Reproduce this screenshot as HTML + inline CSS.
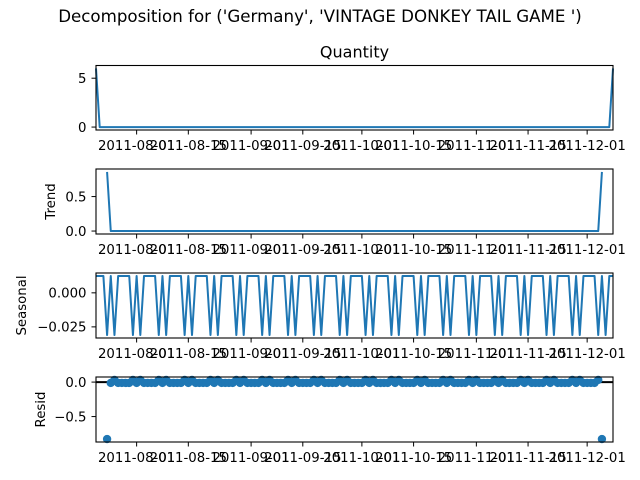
<!DOCTYPE html>
<html><head><meta charset="utf-8"><style>
body{margin:0;background:#fff;}
svg{display:block;font-family:"DejaVu Sans","Liberation Sans",sans-serif;}
</style></head><body>
<svg id="fig" width="640" height="480" viewBox="0 0 640 480">
<text x="320" y="22" text-anchor="middle" font-size="16.67" fill="#000">Decomposition for ('Germany', 'VINTAGE DONKEY TAIL GAME ')</text>
</svg>
<script>
const quantity = [
6,0,0,0,0,0,0, 0,0,0,0,0,0,0, 0,0,0,0,0,0,0, 0,0,0,0,0,0,0, 0,0,0,0,0,0,0,
0,0,0,0,0,0,0, 0,0,0,0,0,0,0, 0,0,0,0,0,0,0, 0,0,0,0,0,0,0, 0,0,0,0,0,0,0,
0,0,0,0,0,0,0, 0,0,0,0,0,0,0, 0,0,0,0,0,0,0, 0,0,0,0,0,0,0, 0,0,0,0,0,0,0,
0,0,0,0,0,0,0, 0,0,0,0,0,0,0, 0,0,0,0,0,0,0, 0,0,0,0,0,0,0, 0,0,0,0,0,0,0,
6];
const trend = [
null,null,null,0.857,0,0,0, 0,0,0,0,0,0,0, 0,0,0,0,0,0,0, 0,0,0,0,0,0,0, 0,0,0,0,0,0,0,
0,0,0,0,0,0,0, 0,0,0,0,0,0,0, 0,0,0,0,0,0,0, 0,0,0,0,0,0,0, 0,0,0,0,0,0,0,
0,0,0,0,0,0,0, 0,0,0,0,0,0,0, 0,0,0,0,0,0,0, 0,0,0,0,0,0,0, 0,0,0,0,0,0,0,
0,0,0,0,0,0,0, 0,0,0,0,0,0,0, 0,0,0,0,0,0,0, 0,0,0,0,0,0,0, 0,0,0,0,0.857,null,null,
null];
const seasonal = [
0.0124,0.0124,0.0124,-0.031,0.0124,-0.031,0.0124, 0.0124,0.0124,0.0124,-0.031,0.0124,-0.031,0.0124,
0.0124,0.0124,0.0124,-0.031,0.0124,-0.031,0.0124, 0.0124,0.0124,0.0124,-0.031,0.0124,-0.031,0.0124,
0.0124,0.0124,0.0124,-0.031,0.0124,-0.031,0.0124, 0.0124,0.0124,0.0124,-0.031,0.0124,-0.031,0.0124,
0.0124,0.0124,0.0124,-0.031,0.0124,-0.031,0.0124, 0.0124,0.0124,0.0124,-0.031,0.0124,-0.031,0.0124,
0.0124,0.0124,0.0124,-0.031,0.0124,-0.031,0.0124, 0.0124,0.0124,0.0124,-0.031,0.0124,-0.031,0.0124,
0.0124,0.0124,0.0124,-0.031,0.0124,-0.031,0.0124, 0.0124,0.0124,0.0124,-0.031,0.0124,-0.031,0.0124,
0.0124,0.0124,0.0124,-0.031,0.0124,-0.031,0.0124, 0.0124,0.0124,0.0124,-0.031,0.0124,-0.031,0.0124,
0.0124,0.0124,0.0124,-0.031,0.0124,-0.031,0.0124, 0.0124,0.0124,0.0124,-0.031,0.0124,-0.031,0.0124,
0.0124,0.0124,0.0124,-0.031,0.0124,-0.031,0.0124, 0.0124,0.0124,0.0124,-0.031,0.0124,-0.031,0.0124,
0.0124,0.0124,0.0124,-0.031,0.0124,-0.031,0.0124, 0.0124,0.0124,0.0124,-0.031,0.0124,-0.031,0.0124,
0.0124];
const resid = [
null,null,null,-0.826,-0.0124,0.031,-0.0124,
-0.0124,-0.0124,-0.0124,0.031,-0.0124,0.031,-0.0124, -0.0124,-0.0124,-0.0124,0.031,-0.0124,0.031,-0.0124,
-0.0124,-0.0124,-0.0124,0.031,-0.0124,0.031,-0.0124, -0.0124,-0.0124,-0.0124,0.031,-0.0124,0.031,-0.0124,
-0.0124,-0.0124,-0.0124,0.031,-0.0124,0.031,-0.0124, -0.0124,-0.0124,-0.0124,0.031,-0.0124,0.031,-0.0124,
-0.0124,-0.0124,-0.0124,0.031,-0.0124,0.031,-0.0124, -0.0124,-0.0124,-0.0124,0.031,-0.0124,0.031,-0.0124,
-0.0124,-0.0124,-0.0124,0.031,-0.0124,0.031,-0.0124, -0.0124,-0.0124,-0.0124,0.031,-0.0124,0.031,-0.0124,
-0.0124,-0.0124,-0.0124,0.031,-0.0124,0.031,-0.0124, -0.0124,-0.0124,-0.0124,0.031,-0.0124,0.031,-0.0124,
-0.0124,-0.0124,-0.0124,0.031,-0.0124,0.031,-0.0124, -0.0124,-0.0124,-0.0124,0.031,-0.0124,0.031,-0.0124,
-0.0124,-0.0124,-0.0124,0.031,-0.0124,0.031,-0.0124, -0.0124,-0.0124,-0.0124,0.031,-0.0124,0.031,-0.0124,
-0.0124,-0.0124,-0.0124,0.031,-0.0124,0.031,-0.0124, -0.0124,-0.0124,-0.0124,0.031,-0.0124,0.031,-0.0124,
-0.0124,-0.0124,-0.0124,0.031,-0.826,null,null,
null];
const xTickDays = [11,25,42,56,72,86,103,117,133];
const xTickLabels = ["2011-08-01","2011-08-15","2011-09-01","2011-09-15","2011-10-01","2011-10-15","2011-11-01","2011-11-15","2011-12-01"];
const qTicks = [0,5], qTickLabels = ["0","5"];
const tTicks = [0,0.5], tTickLabels = ["0.0","0.5"];
const sTicks = [0,-0.025], sTickLabels = ["0.000","\u22120.025"];
const rTicks = [0,-0.5], rTickLabels = ["0.0","\u22120.5"];

const NS="http://www.w3.org/2000/svg";
const svg=document.getElementById('fig');
const X0=96, X1=613;
function x(i){ return X0 + i*(X1-X0)/(quantity.length-1); }
function mk(tag,attrs,parent){ const e=document.createElementNS(NS,tag); for(const k in attrs) e.setAttribute(k,attrs[k]); (parent||svg).appendChild(e); return e; }
function ext(arr){ const v=arr.filter(a=>a!==null); let lo=Math.min(...v), hi=Math.max(...v); const m=(hi-lo)*0.05; return [lo-m,hi+m]; }

function panel(name, data, top, bot, ticks, tlabels, ylabel, labelX, title, kind){
  const g=mk('g',{});
  
  
  const [lo,hi]=ext(kind==='resid'?data.concat([0]):data);
  const y=v=> bot - (v-lo)/(hi-lo)*(bot-top);
  if(kind==='resid'){
    const zl=mk('line',{x1:X0,x2:X1,y1:y(0),y2:y(0),stroke:'#000','stroke-width':2},g);
    
    
    data.forEach((v,i)=>{ if(v===null) return;
      const c=mk('circle',{cx:x(i),cy:y(v),r:4.2,fill:'#1f77b4'},g);
      
      
    });
  } else {
    let d='', pen=false;
    data.forEach((v,i)=>{ if(v===null){pen=false;return;} d+=(pen?'L':'M')+x(i).toFixed(2)+','+y(v).toFixed(2); pen=true; });
    const p=mk('path',{d:d,fill:'none',stroke:'#1f77b4','stroke-width':2,'stroke-linejoin':'round'},g);
    
    
  }
  const fr=mk('rect',{x:X0,y:top,width:X1-X0,height:bot-top,fill:'none',stroke:'#000','stroke-width':1.1},g);
  
  
  ticks.forEach((t,k)=>{
    const yy=y(t);
    mk('line',{x1:X0-4.5,x2:X0,y1:yy,y2:yy,stroke:'#000','stroke-width':1},g);
    const tx=mk('text',{x:X0-9.5,y:yy+4.8,'text-anchor':'end','font-size':13.3,fill:'#000'},g);
    tx.textContent=tlabels[k];
    
    
  });
  xTickDays.forEach((dd,k)=>{
    const xx=x(dd);
    mk('line',{x1:xx,x2:xx,y1:bot,y2:bot+4.5,stroke:'#000','stroke-width':1},g);
    const tx=mk('text',{x:xx,y:bot+20,'text-anchor':'middle','font-size':13.3,fill:'#000'},g);
    tx.textContent=xTickLabels[k];
    
    
  });
  if(ylabel){
    const cy=(top+bot)/2;
    const yl=mk('text',{x:0,y:0,transform:`translate(${labelX},${cy}) rotate(-90)`,'text-anchor':'middle','font-size':13.3,fill:'#000'},g);
    yl.textContent=ylabel;
    
    
  }
  if(title){
    const tt=mk('text',{x:(X0+X1)/2,y:top-8,'text-anchor':'middle','font-size':16,fill:'#000'},g);
    tt.textContent=title;
    
    
  }
}
panel('quantity', quantity, 65.5, 130, qTicks, qTickLabels, null, 0, 'Quantity', 'line');
panel('trend', trend, 169, 234, tTicks, tTickLabels, 'Trend', 55, null, 'line');
panel('seasonal', seasonal, 273, 338, sTicks, sTickLabels, 'Seasonal', 26, null, 'line');
panel('resid', resid, 377, 442, rTicks, rTickLabels, 'Resid', 45, null, 'resid');
</script>
</body></html>
